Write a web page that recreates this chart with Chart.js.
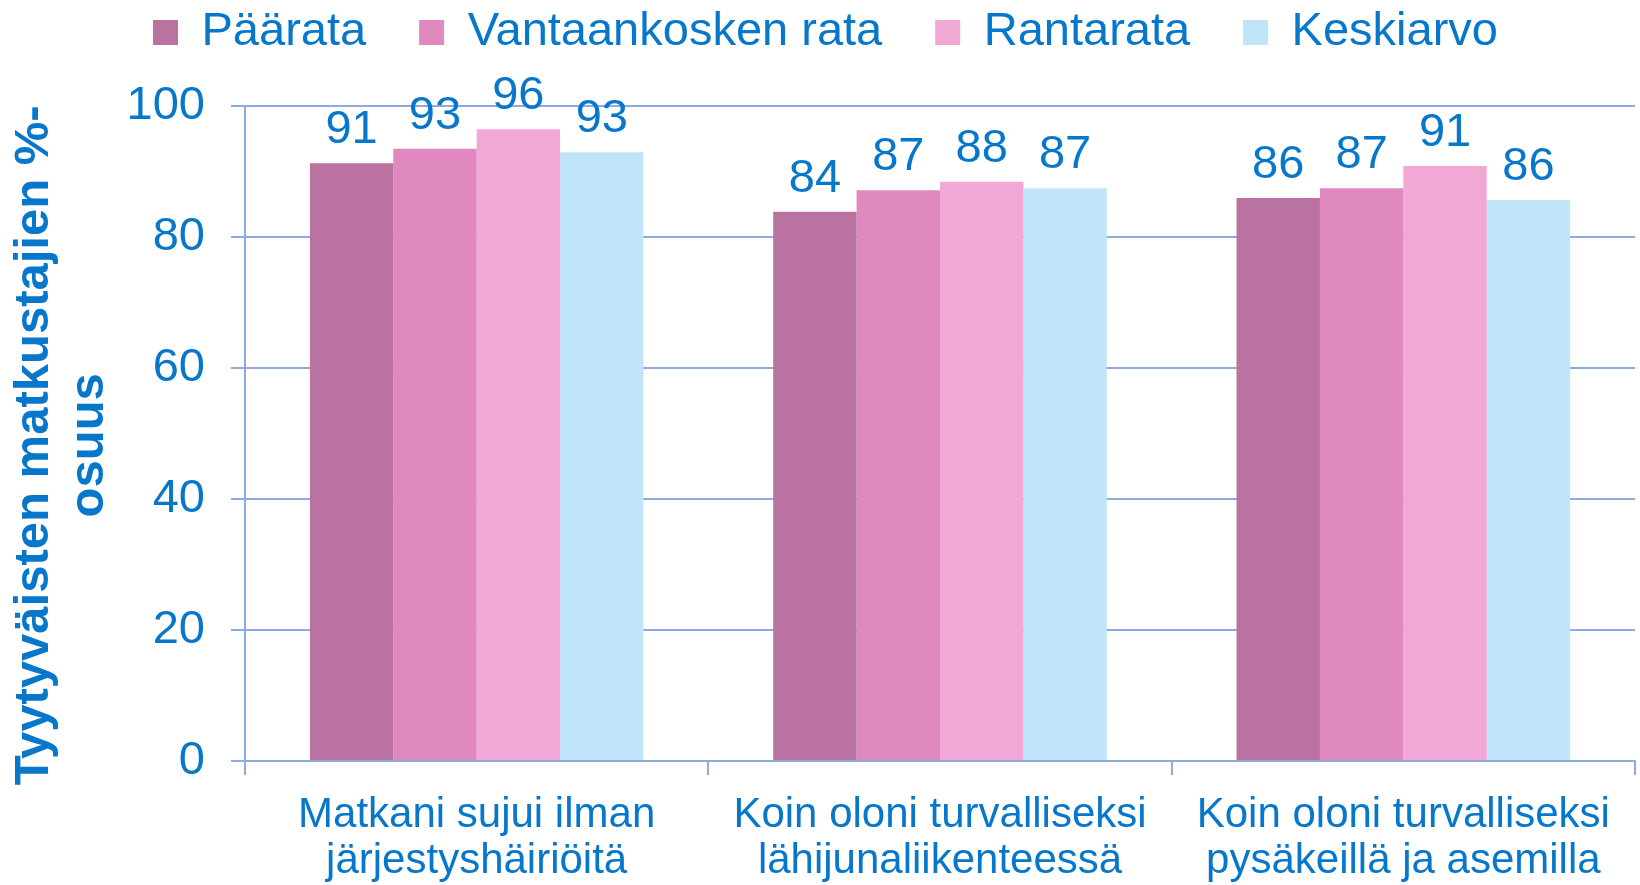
<!DOCTYPE html>
<html>
<head>
<meta charset="utf-8">
<script src="https://cdn.jsdelivr.net/npm/chart.js@4/dist/chart.umd.min.js"></script>
<style>
html, body { margin: 0; padding: 0; background: #fff; }
#wrap { width: 1640px; height: 885px; }
</style>
</head>
<body>
<div id="wrap"><canvas id="chart" width="1640" height="885"></canvas></div>
<script>
// Data
const categories = [
  ["Matkani sujui ilman", "järjestyshäiriöitä"],
  ["Koin oloni turvalliseksi", "lähijunaliikenteessä"],
  ["Koin oloni turvalliseksi", "pysäkeillä ja asemilla"]
];
const paarata = [91.2, 83.8, 85.9];
const vantaankoski = [93.4, 87.1, 87.4];
const rantarata = [96.4, 88.4, 90.8];
const keskiarvo = [92.9, 87.4, 85.6];
const yTicks = [0, 20, 40, 60, 80, 100];

const textColor = "#0777CC";
const gridColor = "#8FAADC";
const font = "Liberation Sans";

// value labels above bars
const valueLabels = {
  id: "valueLabels",
  afterDatasetsDraw(chart) {
    const ctx = chart.ctx;
    ctx.save();
    ctx.font = "47px '" + font + "'";
    ctx.fillStyle = textColor;
    ctx.textAlign = "center";
    ctx.textBaseline = "alphabetic";
    chart.data.datasets.forEach((ds, i) => {
      chart.getDatasetMeta(i).data.forEach((bar, j) => {
        ctx.fillText(Math.round(ds.data[j]), bar.x, bar.y - 20);
      });
    });
    ctx.restore();
  }
};

// legend sits high, plot starts lower
const layoutTop = -44;
const plotTop = 105.6;
const legendShift = 8;
const titleShift = 12;
const layoutTweaks = {
  id: "layoutTweaks",
  beforeInit(chart) {
    const fit = chart.legend.fit;
    chart.legend.fit = function () {
      fit.bind(chart.legend)();
      this.height = plotTop - layoutTop;
    };
  },
  afterLayout(chart) {
    chart.legend.left += legendShift;
    chart.legend.right += legendShift;

    // y title sits a bit below the middle of the axis
    const y = chart.scales.y;
    if (!y._titleMoved) {
      const drawTitle = y.drawTitle;
      y.drawTitle = function () {
        this.top += titleShift;
        this.bottom += titleShift;
        drawTitle.call(this);
        this.top -= titleShift;
        this.bottom -= titleShift;
      };
      y._titleMoved = true;
    }
  }
};

const ctx = document.getElementById("chart");

new Chart(ctx, {
  type: "bar",
  data: {
    labels: categories,
    datasets: [
      { label: "Päärata", data: paarata, backgroundColor: "#BA72A0" },
      { label: "Vantaankosken rata", data: vantaankoski, backgroundColor: "#E088C0" },
      { label: "Rantarata", data: rantarata, backgroundColor: "#F2A8D4" },
      { label: "Keskiarvo", data: keskiarvo, backgroundColor: "#C0E4F8" }
    ]
  },
  options: {
    responsive: false,
    animation: false,
    datasets: {
      bar: { categoryPercentage: 0.72, barPercentage: 1.0 }
    },
    layout: { padding: { top: layoutTop, right: 5, bottom: 0, left: 0 } },
    plugins: {
      legend: {
        position: "top",
        labels: {
          font: { family: font, size: 47 },
          color: textColor,
          boxWidth: 25,
          boxHeight: 25,
          padding: 53
        }
      },
      tooltip: { enabled: false }
    },
    scales: {
      x: {
        afterFit(scale) {
          scale.height = 124;
        },
        grid: {
          drawOnChartArea: false,
          drawTicks: true,
          tickLength: 14,
          color: gridColor,
          lineWidth: 2,
          offset: true
        },
        border: { color: gridColor, width: 2 },
        ticks: {
          font: { family: font, size: 42, lineHeight: 1.1 },
          color: textColor,
          padding: 17,
          maxRotation: 0
        }
      },
      y: {
        min: 0,
        max: 100,
        afterBuildTicks(scale) {
          scale.ticks = yTicks.map(v => ({ value: v }));
        },
        afterFit(scale) {
          scale.width = 245;
        },
        grid: {
          color: gridColor,
          lineWidth: 2,
          tickLength: 14
        },
        border: { color: gridColor, width: 2 },
        ticks: {
          font: { family: font, size: 47 },
          color: textColor,
          padding: 26
        },
        title: {
          display: true,
          text: ["Tyytyväisten matkustajien %-", "osuus"],
          font: { family: font, size: 49, weight: "bold", lineHeight: 1.12 },
          color: textColor,
          padding: { top: 7, bottom: 0 }
        }
      }
    }
  },
  plugins: [valueLabels, layoutTweaks]
});
</script>
</body>
</html>
